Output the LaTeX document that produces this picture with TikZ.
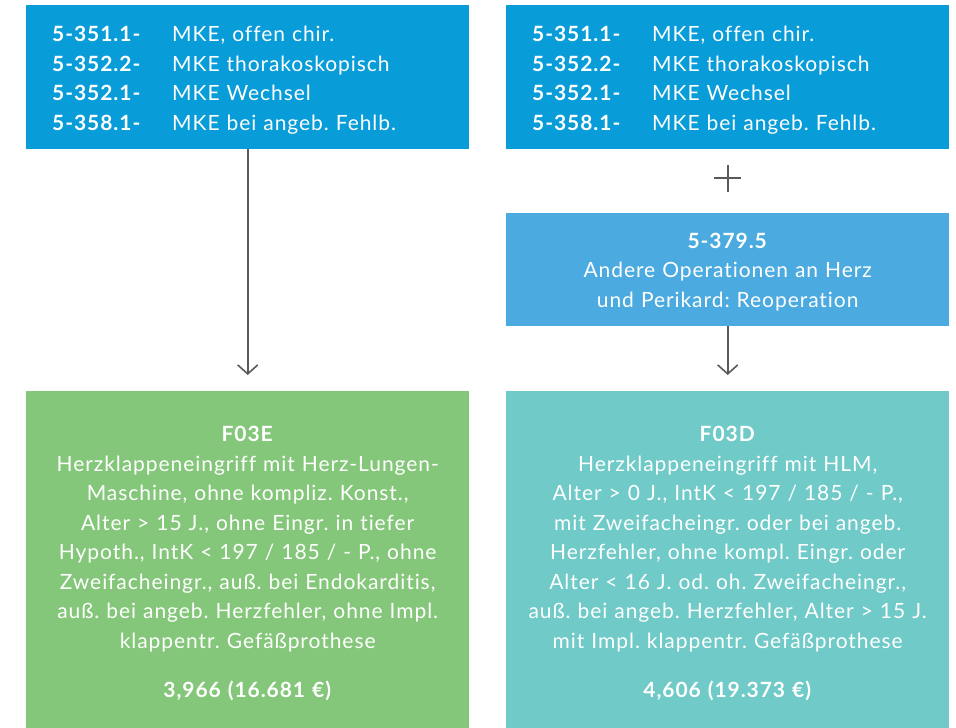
\documentclass[tikz,border=0pt]{standalone}
\usepackage{fontspec}
\setmainfont{Lato}[LetterSpace=4.5,Ligatures=NoCommon]
\usetikzlibrary{positioning,arrows.meta}

\definecolor{kodeblau}{HTML}{089CD8}
\definecolor{reopblau}{HTML}{4BAADF}
\definecolor{drggruen}{HTML}{85C77A}
\definecolor{drgtuerkis}{HTML}{6FCAC8}
\definecolor{pfeilgrau}{HTML}{5A5A5A}

\newcommand{\kodezeile}[2]{\makebox[120pt][l]{\bfseries #1}#2}
\newcommand{\hoehe}[1]{\rule{0pt}{#1}}
\frenchspacing

\begin{document}
\begin{tikzpicture}[x=1pt,y=-1pt,
  listbox/.style={fill=#1,text=white,anchor=north west,inner sep=0pt,
    minimum width=443pt,minimum height=144pt,text width=391pt,align=left,
    font=\fontsize{21}{29.5}\selectfont},
  reopbox/.style={fill=reopblau,text=white,anchor=north west,inner sep=0pt,
    minimum width=443pt,minimum height=113pt,text width=420pt,align=center,
    font=\fontsize{21}{29.5}\selectfont},
  drgbox/.style={fill=#1,text=white,anchor=north west,inner sep=0pt,
    minimum width=443pt,minimum height=337pt,text width=438pt,align=center,
    font=\fontsize{21}{29.5}\selectfont},
  pfeil/.style={draw=pfeilgrau,line width=1.6pt,-{Straight Barb[length=9pt,width=20pt]},shorten >=16pt},
  kreuz/.style={draw=pfeilgrau,line width=1.6pt}]
\useasboundingbox (0,0) rectangle (956,728);

% Kodes links
\node[listbox=kodeblau] (mkeL) at (26,5) {%
  \hoehe{21.5pt}\kodezeile{5-351.1-}{MKE, offen chir.}\\
  \kodezeile{5-352.2-}{MKE thorakoskopisch}\\
  \kodezeile{5-352.1-}{MKE Wechsel}\\
  \kodezeile{5-358.1-}{MKE bei angeb. Fehlb.}};

% Kodes rechts
\node[listbox=kodeblau] (mkeR) at (506,5) {%
  \hoehe{21.5pt}\kodezeile{5-351.1-}{MKE, offen chir.}\\
  \kodezeile{5-352.2-}{MKE thorakoskopisch}\\
  \kodezeile{5-352.1-}{MKE Wechsel}\\
  \kodezeile{5-358.1-}{MKE bei angeb. Fehlb.}};

\node[reopbox] (reop) at (506,213) {%
  \hoehe{19.5pt}\textbf{5-379.5}\\
  Andere Operationen an Herz\\
  und Perikard: Reoperation};

% DRGs
\node[drgbox=drggruen] (f03e) at (26,391) {%
  \hoehe{23pt}\textbf{F03E}\\
  Herzklappeneingriff mit Herz-Lungen-\\
  Maschine, ohne kompliz. Konst.,\\
  Alter > 15 J., ohne Eingr. in tiefer\\
  Hypoth., IntK < 197 / 185 / - P., ohne\\
  Zweifacheingr., auß. bei Endokarditis,\\
  auß. bei angeb. Herzfehler, ohne Impl.\\
  klappentr. Gefäßprothese\\[20pt]
  \textbf{3,966 (16.681 €)}};

\node[drgbox=drgtuerkis] (f03d) at (506,391) {%
  \hoehe{23pt}\textbf{F03D}\\
  Herzklappeneingriff mit HLM,\\
  Alter > 0 J., IntK < 197 / 185 / - P.,\\
  mit Zweifacheingr. oder bei angeb.\\
  Herzfehler, ohne kompl. Eingr. oder\\
  Alter < 16 J. od. oh. Zweifacheingr.,\\
  auß. bei angeb. Herzfehler, Alter > 15 J.\\
  mit Impl. klappentr. Gefäßprothese\\[20pt]
  \textbf{4,606 (19.373 €)}};

% Verbindungen
\draw[pfeil] (mkeL.south) -- (f03e.north);
\draw[pfeil] (reop.south) -- (f03d.north);
\path (mkeR.south) -- coordinate[pos=0.45] (plus) (reop.north);
\draw[kreuz] ([xshift=-13.5pt]plus) -- ([xshift=13.5pt]plus);
\draw[kreuz] ([yshift=-13.5pt]plus) -- ([yshift=13.5pt]plus);

\end{tikzpicture}
\end{document}
